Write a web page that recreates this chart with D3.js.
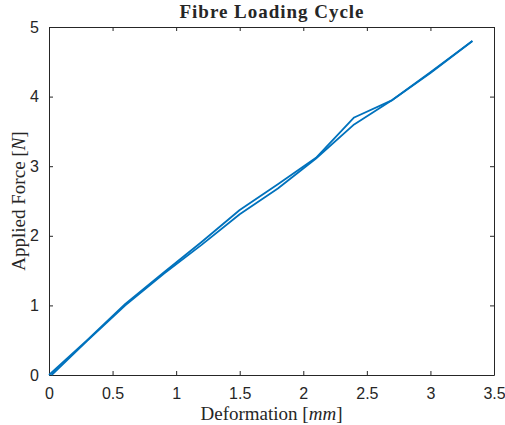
<!DOCTYPE html>
<html>
<head>
<meta charset="utf-8">
<script src="https://cdn.jsdelivr.net/npm/d3@7"></script>
<style>
  body { margin: 0; background: #fff; }
  svg { display: block; }
  .tick text { font-family: "Liberation Sans", Arial, sans-serif; font-size: 16px; fill: #262626; }
  .lbl { font-family: "Liberation Serif", "Times New Roman", serif; fill: #262626; }
</style>
</head>
<body>
<svg width="505" height="425"></svg>
<script>
// deformation (mm) / force (N)
const loadX = [0, 0.3, 0.6, 0.9, 1.2, 1.5, 1.8, 2.1, 2.4, 2.7, 3.0, 3.33];
const loadY = [0, 0.5, 1.02, 1.47, 1.91, 2.37, 2.74, 3.12, 3.7, 3.95, 4.35, 4.8];
const unloadX = [3.33, 3.0, 2.7, 2.4, 2.1, 1.8, 1.5, 1.2, 0.9, 0.6, 0.3, 0.02];
const unloadY = [4.8, 4.34, 3.95, 3.6, 3.11, 2.68, 2.31, 1.87, 1.45, 1.0, 0.49, 0];

const xTicks = [0, 0.5, 1, 1.5, 2, 2.5, 3, 3.5];
const yTicks = [0, 1, 2, 3, 4, 5];

const margin = { top: 27, right: 11, bottom: 50, left: 49 };
const width = 505, height = 425;

const svg = d3.select('svg');
const x = d3.scaleLinear().domain([0, 3.5]).range([margin.left, width - margin.right]);
const y = d3.scaleLinear().domain([0, 5]).range([height - margin.bottom, margin.top]);

const fmt = d => String(d);

// axes with inward ticks, box style
svg.append('g')
  .attr('transform', `translate(0,${y(0)})`)
  .call(d3.axisBottom(x).tickValues(xTicks).tickFormat(fmt).tickSizeInner(-4).tickSizeOuter(0))
  .call(g => g.selectAll('.tick text').attr('dy', '0.71em').attr('y', 13));

svg.append('g')
  .attr('transform', `translate(0,${y(5)})`)
  .call(d3.axisTop(x).tickValues(xTicks).tickFormat('').tickSizeInner(-4).tickSizeOuter(0));

svg.append('g')
  .attr('transform', `translate(${x(0)},0)`)
  .call(d3.axisLeft(y).tickValues(yTicks).tickFormat(fmt).tickSizeInner(-4).tickSizeOuter(0))
  .call(g => g.selectAll('.tick text').attr('x', -10));

svg.append('g')
  .attr('transform', `translate(${x(3.5)},0)`)
  .call(d3.axisRight(y).tickValues(yTicks).tickFormat('').tickSizeInner(-4).tickSizeOuter(0));

svg.selectAll('.domain, .tick line').attr('stroke', '#262626').attr('stroke-width', 1);

const line = d3.line().x(d => x(d[0])).y(d => y(d[1]));

[[loadX, loadY], [unloadX, unloadY]].forEach(([xs, ys]) => {
  svg.append('path')
    .datum(xs.map((v, i) => [v, ys[i]]))
    .attr('fill', 'none')
    .attr('stroke', '#0072BD')
    .attr('stroke-width', 1.8)
    .attr('stroke-linejoin', 'round')
    .attr('d', line);
});

// title and labels
svg.append('text')
  .attr('class', 'lbl')
  .attr('x', (x(0) + x(3.5)) / 2)
  .attr('y', 18)
  .attr('text-anchor', 'middle')
  .attr('font-weight', 'bold')
  .attr('font-size', 19)
  .attr('textLength', 184)
  .attr('lengthAdjust', 'spacing')
  .text('Fibre Loading Cycle');

const xl = svg.append('text')
  .attr('class', 'lbl')
  .attr('x', (x(0) + x(3.5)) / 2)
  .attr('y', 420)
  .attr('text-anchor', 'middle')
  .attr('font-size', 19);
xl.append('tspan').text('Deformation [');
xl.append('tspan').attr('font-style', 'italic').text('mm');
xl.append('tspan').text(']');

const yl = svg.append('text')
  .attr('class', 'lbl')
  .attr('transform', `translate(25,${(y(0) + y(5)) / 2}) rotate(-90)`)
  .attr('text-anchor', 'middle')
  .attr('font-size', 19);
yl.append('tspan').text('Applied Force [');
yl.append('tspan').attr('font-style', 'italic').text('N');
yl.append('tspan').text(']');
</script>
</body>
</html>
